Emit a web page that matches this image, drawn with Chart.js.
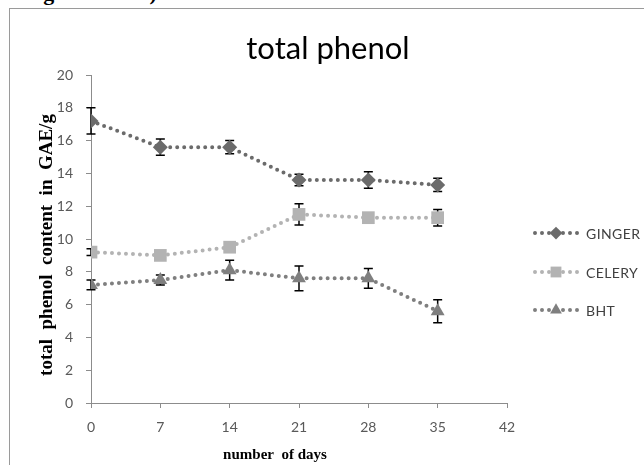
<!DOCTYPE html>
<html><head><meta charset="utf-8">
<script src="https://cdn.jsdelivr.net/npm/chart.js@4/dist/chart.umd.min.js"></script>
<style>
html,body{margin:0;padding:0;background:#fff;overflow:hidden}
#wrap{position:relative;width:644px;height:465px}
#frame{position:absolute;left:9px;top:8px;width:700px;height:520px;border:1px solid #9a9a9a;box-sizing:border-box}
#cut{position:absolute;left:-2px;top:-18px;font:bold 22px "Liberation Serif",serif;color:#000;white-space:nowrap;line-height:22px}
canvas{position:absolute;left:0;top:0}
</style></head><body>
<div id="wrap">
<div id="cut">acid/g of extract)</div>
<div id="frame"></div>
<canvas id="c" width="644" height="465"></canvas>
</div>
<script>
const chartTitle = "total phenol";
const xTitle = "number  of days";
const yTitle = "total  phenol  content  in  GAE/g";
const days = [0, 7, 14, 21, 28, 35];
const xTicks = [0, 7, 14, 21, 28, 35, 42];
const yTicks = [0, 2, 4, 6, 8, 10, 12, 14, 16, 18, 20];
const seriesNames = ["GINGER", "CELERY", "BHT"];
const ginger = [17.2, 15.6, 15.6, 13.6, 13.6, 13.3];
const gingerErr = [0.8, 0.5, 0.4, 0.35, 0.5, 0.4];
const celery = [9.2, 9.0, 9.5, 11.5, 11.3, 11.3];
const celeryErr = [0.2, 0.2, 0.2, 0.65, 0.3, 0.5];
const bht = [7.2, 7.5, 8.1, 7.6, 7.6, 5.6];
const bhtErr = [0.3, 0.3, 0.6, 0.75, 0.6, 0.7];

const styles = [
  {color:'#6b6b6b', point:'rectRot', r:7.5},
  {color:'#b3b3b3', point:'rect', r:9},
  {color:'#7f7f7f', point:'triangle', r:8}
];
const vals = [ginger, celery, bht];
const errs = [gingerErr, celeryErr, bhtErr];

const datasets = seriesNames.map((n,i)=>({
  label:n,
  data: days.map((d,j)=>({x:d, y:vals[i][j]})),
  errors: errs[i],
  borderColor: styles[i].color,
  backgroundColor: styles[i].color,
  borderWidth: 4,
  borderDash: [0, 7],
  borderCapStyle: 'round',
  pointStyle: styles[i].point,
  pointRadius: styles[i].r,
  pointHoverRadius: styles[i].r,
  pointBorderWidth: 0,
  pointBackgroundColor: styles[i].color,
  tension: 0
}));

const extras = {
  id:'extras',
  beforeDatasetsDraw(chart){
    const ctx = chart.ctx, xs = chart.scales.x, ys = chart.scales.y;
    ctx.save();
    ctx.strokeStyle = '#000'; ctx.lineWidth = 1.5;
    chart.data.datasets.forEach(ds=>{
      ds.data.forEach((p,j)=>{
        const e = ds.errors[j];
        const x = xs.getPixelForValue(p.x);
        const y1 = ys.getPixelForValue(p.y + e), y2 = ys.getPixelForValue(p.y - e);
        ctx.beginPath();
        ctx.moveTo(x, y1); ctx.lineTo(x, y2);
        ctx.moveTo(x-4.5, y1); ctx.lineTo(x+4.5, y1);
        ctx.moveTo(x-4.5, y2); ctx.lineTo(x+4.5, y2);
        ctx.stroke();
      });
    });
    ctx.restore();
  },
  afterDraw(chart){
    const ctx = chart.ctx;
    ctx.save();
    ctx.fillStyle = '#000';
    ctx.font = '31px Lato';
    ctx.textAlign = 'center'; ctx.textBaseline = 'alphabetic';
    ctx.fillText(chartTitle, 328, 59);
    ctx.font = 'bold 15px "Liberation Serif"';
    ctx.fillText(xTitle, 275, 459);
    ctx.save();
    ctx.translate(52, 245);
    ctx.rotate(-Math.PI/2);
    ctx.font = 'bold 19px "Liberation Serif"';
    ctx.fillText(yTitle, 0, 0);
    ctx.restore();
    const ly = [233, 272, 310];
    chart.data.datasets.forEach((ds,i)=>{
      const y = ly[i];
      ctx.save();
      ctx.strokeStyle = ds.borderColor; ctx.lineWidth = 4;
      ctx.lineCap = 'round'; ctx.setLineDash([0,7]);
      ctx.beginPath(); ctx.moveTo(535, y); ctx.lineTo(578, y); ctx.stroke();
      ctx.restore();
      ctx.fillStyle = ds.borderColor;
      Chart.helpers.drawPoint(ctx, {pointStyle: ds.pointStyle, radius: ds.pointRadius*0.85, borderWidth:0}, 556, y);
      ctx.fillStyle = '#404040';
      ctx.font = '14px Lato';
      ctx.textAlign = 'left'; ctx.textBaseline = 'middle';
      if (ctx.letterSpacing !== undefined) ctx.letterSpacing = '0.4px';
      ctx.fillText(ds.label, 586, y+1);
      if (ctx.letterSpacing !== undefined) ctx.letterSpacing = '0px';
    });
    ctx.restore();
  }
};

new Chart(document.getElementById('c'), {
  type:'line',
  data:{datasets},
  options:{
    responsive:false, animation:false,
    layout:{padding:{left:10, top:75, right:137, bottom:0}},
    plugins:{legend:{display:false}, title:{display:false}, tooltip:{enabled:false}},
    scales:{
      x:{type:'linear', min:0, max:42,
        afterBuildTicks(s){ s.ticks = xTicks.map(v=>({value:v})); },
        afterFit(s){ s.height = 62; },
        grid:{drawOnChartArea:false, drawTicks:true, tickLength:5, color:'#8c8c8c'},
        border:{color:'#8c8c8c', width:1},
        ticks:{padding:11, color:'#595959', font:{family:'Lato', size:14}, maxRotation:0}
      },
      y:{type:'linear', min:0, max:20,
        afterBuildTicks(s){ s.ticks = yTicks.map(v=>({value:v})); },
        afterFit(s){ s.width = 81; },
        grid:{drawOnChartArea:false, drawTicks:true, tickLength:5, color:'#8c8c8c'},
        border:{color:'#8c8c8c', width:1},
        ticks:{padding:13, color:'#595959', font:{family:'Lato', size:14}}
      }
    }
  },
  plugins:[extras]
});
</script>
</body></html>
